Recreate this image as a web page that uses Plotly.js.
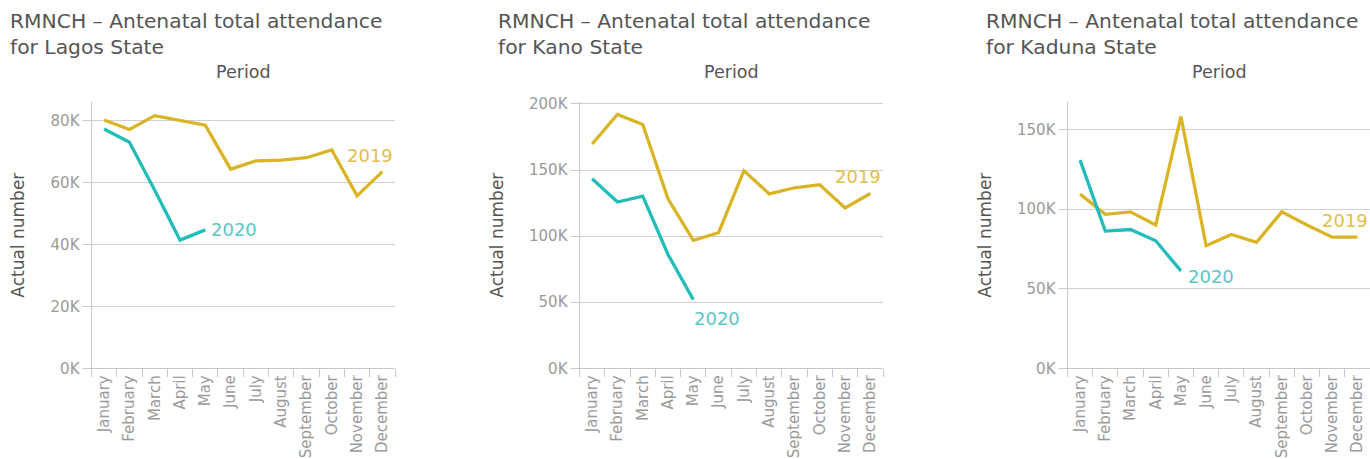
<!DOCTYPE html>
<html>
<head>
<meta charset="utf-8">
<script src="https://cdn.plot.ly/plotly-3.0.1.min.js"></script>
<style>
html,body{margin:0;padding:0;background:#fff;}
#chart{width:1370px;height:459px;}
</style>
</head>
<body>
<div id="chart"></div>
<script>
const months = ["January","February","March","April","May","June","July","August","September","October","November","December"];
const months2020 = ["January","February","March","April","May"];

const states = ["Lagos State","Kano State","Kaduna State"];

const lagos2019 = [80200,77100,81600,80000,78500,64300,67000,67200,68000,70500,55700,63500];
const lagos2020 = [77300,73000,57500,41400,44700];
const kano2019 = [169700,192100,184500,128300,96800,102600,149500,132000,136600,138900,121400,132300];
const kano2020 = [143400,125800,130300,86100,52000];
const kaduna2019 = [109400,96700,98300,90000,158200,77000,84100,79100,98300,90000,82400,82400];
const kaduna2020 = [130800,86200,87200,80100,61200];

const lagosTicks = [0,20000,40000,60000,80000];
const kanoTicks = [0,50000,100000,150000,200000];
const kadunaTicks = [0,50000,100000,150000];

const yMax = [86000,201500,167300];

const series2019 = [lagos2019,kano2019,kaduna2019];
const series2020 = [lagos2020,kano2020,kaduna2020];
const ticks = [lagosTicks,kanoTicks,kadunaTicks];

const C2019 = "#D9B526", C2020 = "#22BDBA";
const L2019 = "#E2BE4A", L2020 = "#5AC7C5";
const FONT = "'DejaVu Sans', 'Open Sans', sans-serif";

const W = 1370, H = 459;
const panelOffset = [0,488,976];
const plotLeft = 91.5, plotW = 303.5;
const yBottom = 368.3, yTop = 102;

const traces = [];
const layout = {
  width: W, height: H,
  margin:{l:0,r:0,t:0,b:0},
  paper_bgcolor:"#fff", plot_bgcolor:"#fff",
  showlegend:false,
  font:{family:FONT},
  annotations:[]
};

const lab2020 = [
  {xanchor:"left", yanchor:"middle", xshift:4, yshift:0},
  {xanchor:"left", yanchor:"top", xshift:-1, yshift:-6},
  {xanchor:"left", yanchor:"middle", xshift:5, yshift:-6}
];

for (let i=0;i<3;i++){
  const n = i===0 ? "" : String(i+1);
  const xa = "x"+n, ya = "y"+n;
  traces.push({x:months, y:series2019[i], type:"scatter", mode:"lines",
    line:{color:C2019,width:3.3}, xaxis:xa, yaxis:ya, hoverinfo:"skip"});
  traces.push({x:months2020, y:series2020[i], type:"scatter", mode:"lines",
    line:{color:C2020,width:3.3}, xaxis:xa, yaxis:ya, hoverinfo:"skip"});

  const x0 = (panelOffset[i]+plotLeft)/W;
  const x1 = Math.min(1,(panelOffset[i]+plotLeft+plotW)/W);
  layout["xaxis"+n] = {
    domain:[x0,x1], anchor:ya, type:"category",
    categoryorder:"array", categoryarray:months,
    range:[-0.5,11.5],
    tickangle:-90, tickson:"boundaries", ticks:"outside", ticklen:8, tickcolor:"#c8c8c8",
    tickfont:{size:15,color:"#9a9a9a",family:FONT},
    showline:true, linecolor:"#c8c8c8", linewidth:1,
    showgrid:false, zeroline:false, fixedrange:true
  };
  layout["yaxis"+n] = {
    domain:[(H-yBottom)/H,(H-yTop)/H], anchor:xa,
    range:[0,yMax[i]],
    tickvals:ticks[i], ticktext:ticks[i].map(v=>(v/1000)+"K"),
    ticks:"outside", ticklen:8, tickcolor:"#c8c8c8",
    tickfont:{size:15,color:"#9a9a9a",family:FONT},
    showline:true, linecolor:"#c8c8c8", linewidth:1,
    showgrid:true, gridcolor:"#d0d0d0", gridwidth:1,
    zeroline:false, fixedrange:true,
    title:{text:"Actual number", font:{size:17,color:"#555",family:FONT}, standoff:21}
  };

  layout.annotations.push({
    xref:"paper", yref:"paper", x:(panelOffset[i]+8)/W, y:1-7/H,
    xanchor:"left", yanchor:"top", align:"left", showarrow:false,
    text:"RMNCH – Antenatal total attendance<br>for "+states[i],
    font:{size:20.3,color:"#555",family:FONT}
  });
  layout.annotations.push({
    xref:"paper", yref:"paper", x:(panelOffset[i]+plotLeft+plotW/2)/W, y:1-72/H,
    xanchor:"center", yanchor:"middle", showarrow:false,
    text:"Period", font:{size:17.5,color:"#555",family:FONT}
  });
  layout.annotations.push({
    xref:xa, yref:ya, x:"December", y:series2019[i][11],
    xanchor:"right", yanchor:"bottom", xshift:13, yshift:4, showarrow:false,
    text:"2019", font:{size:18,color:L2019,family:FONT}
  });
  const p = lab2020[i];
  layout.annotations.push({
    xref:xa, yref:ya, x:"May", y:series2020[i][4],
    xanchor:p.xanchor, yanchor:p.yanchor, xshift:p.xshift, yshift:p.yshift, showarrow:false,
    text:"2020", font:{size:18,color:L2020,family:FONT}
  });
}

Plotly.newPlot("chart", traces, layout, {displayModeBar:false, staticPlot:true});
</script>
</body>
</html>
